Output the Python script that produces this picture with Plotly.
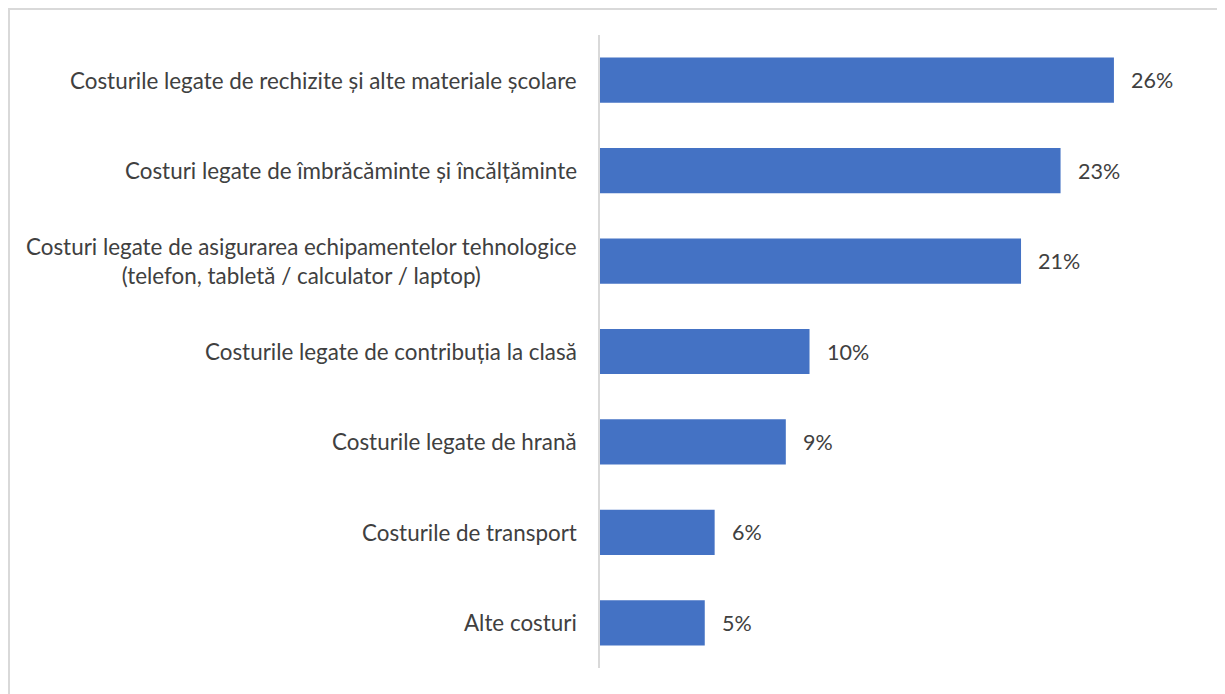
import plotly.graph_objects as go

categories = [
    "Costurile legate de rechizite și alte materiale școlare",
    "Costuri legate de îmbrăcăminte și încălțăminte",
    "Costuri legate de asigurarea echipamentelor tehnologice<br>(telefon, tabletă / calculator / laptop)",
    "Costurile legate de contribuția la clasă",
    "Costurile legate de hrană",
    "Costurile de transport",
    "Alte costuri",
]
values = [26.0, 23.3, 21.3, 10.6, 9.4, 5.8, 5.3]
value_labels = ["26%", "23%", "21%", "10%", "9%", "6%", "5%"]

# page has an 8px body margin, so the figure is sized to fit after it
W, H = 1217, 686
ML, MR, MT, MB = 592, 32, 27, 26
pw = W - ML - MR
ph = H - MT - MB
FONT = "Lato"
FS_VAL = 21.5
FS_CAT = 22.4
TXT = "#404040"

fig = go.Figure(go.Bar(
    x=values,
    y=categories,
    orientation="h",
    marker=dict(color="#4472C4", line=dict(width=0)),
    width=0.5,
    hoverinfo="skip",
))

for v, lab, cat in zip(values, value_labels, categories):
    fig.add_annotation(x=v, y=cat, xref="x", yref="y", text=lab, showarrow=False,
                       xanchor="left", xshift=15, font=dict(size=FS_VAL, color=TXT, family=FONT))

# category labels: right-anchored, lines centred (like the reference)
for cat in categories:
    fig.add_annotation(x=0, y=cat, xref="paper", yref="y", text=cat, showarrow=False,
                       xanchor="right", align="center", xshift=-21,
                       font=dict(size=FS_CAT, color=TXT, family=FONT))

# outer frame (top and left edges visible, as in the reference)
fig.add_shape(type="rect", xref="paper", yref="paper",
              x0=(1 - ML) / pw, x1=1.2, y0=-0.2, y1=1 + (MT - 1) / ph,
              line=dict(color="#d9d9d9", width=2), fillcolor="rgba(0,0,0,0)", layer="below")

fig.update_layout(
    width=W, height=H,
    margin=dict(l=ML, r=MR, t=MT, b=MB),
    paper_bgcolor="white", plot_bgcolor="white",
    showlegend=False,
    font=dict(family=FONT, size=FS_CAT, color=TXT),
    xaxis=dict(range=[0, 30], visible=False, fixedrange=True),
    yaxis=dict(autorange="reversed", showline=True, linecolor="#d9d9d9", linewidth=2,
               ticks="", showgrid=False, showticklabels=False, fixedrange=True),
)

fig.write_html("out.html")
